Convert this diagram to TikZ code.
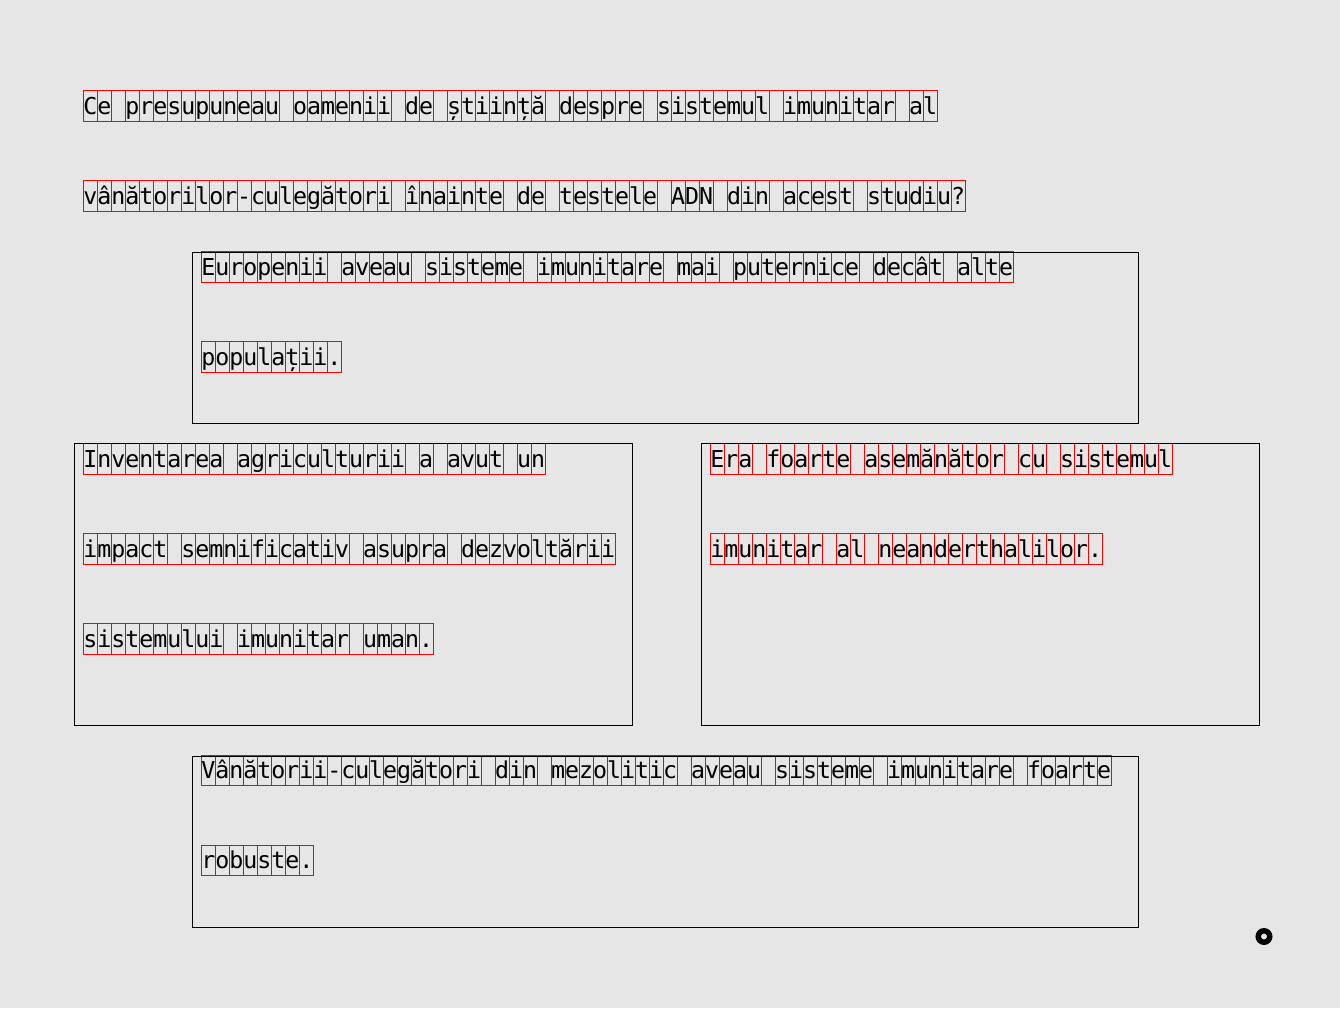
\documentclass[tikz,border=0pt]{standalone}
\usepackage{fontspec}
\usepackage{xcolor}
\usepackage{tikz}
\newfontfamily\glyphfont{DejaVu Sans Mono}
\definecolor{canvas}{HTML}{E6E6E6}

\begin{document}
\begin{tikzpicture}[
    x=0.75pt, y=-0.75pt,
    card/.style={rectangle, draw, line width=0.75pt, anchor=north west, inner sep=0pt},
    glyph/.style={draw=red, line width=0.75pt},
    words/.style={anchor=base west, inner sep=0pt, font=\glyphfont\fontsize{17.44}{20}\selectfont},
]
\useasboundingbox[fill=canvas] (0,0) rectangle (1340,1008);

% one box per character, then the text on top
\foreach \x/\y/\n/\line [count=\k] in {
    83/90.5/61/Ce presupuneau oamenii de știință despre sistemul imunitar al,
    83/180.5/63/vânătorilor-culegători înainte de testele ADN din acest studiu?,
    201/251.7/58/Europenii aveau sisteme imunitare mai puternice decât alte,
    201/341.7/10/populații.,
    83/443.5/33/Inventarea agriculturii a avut un,
    83/533.5/38/impact semnificativ asupra dezvoltării,
    83/623.5/25/sistemului imunitar uman.,
    710/443.5/33/Era foarte asemănător cu sistemul,
    710/533.5/28/imunitar al neanderthalilor.,
    201/755/65/Vânătorii-culegători din mezolitic aveau sisteme imunitare foarte,
    201/845/8/robuste.
}{
    \foreach \i in {1,...,\n}
        \draw[glyph] ({\x+14*(\i-1)},\y) rectangle ++(14,30.7);
    \node[words] (row\k) at (\x,{\y+23.6}) {\line};
}

% answer boxes
\node[card, minimum width=709.5pt, minimum height=128.25pt] (optA) at (192,252) {};
\node[card, minimum width=418.5pt, minimum height=211.5pt] (optB) at (74,443) {};
\node[card, minimum width=418.5pt, minimum height=211.5pt] (optC) at (701,443) {};
\node[card, minimum width=709.5pt, minimum height=128.25pt] (optD) at (192,756) {};

% Marker
\node[circle, draw, line width=4.1pt, minimum size=8.6pt, inner sep=0pt] (dot) at (1264,936.5) {};

\end{tikzpicture}
\end{document}
